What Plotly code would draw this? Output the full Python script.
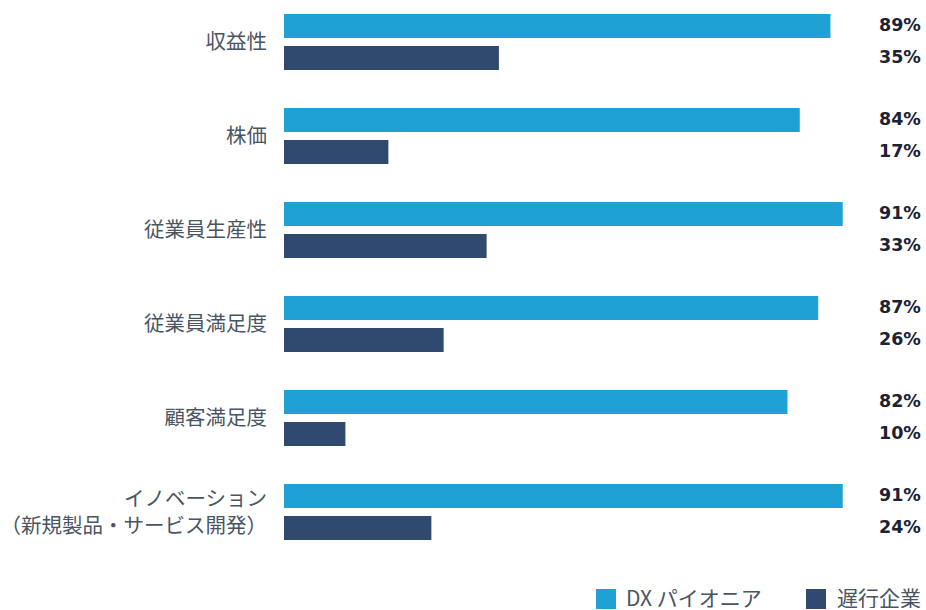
import plotly.graph_objects as go

categories = [
    "収益性",
    "株価",
    "従業員生産性",
    "従業員満足度",
    "顧客満足度",
    "イノベーション<br>（新規製品・サービス開発）",
]
pioneer = [89, 84, 91, 87, 82, 91]
laggard = [35, 17, 33, 26, 10, 24]
series_names = ["DX パイオニア", "遅行企業"]
colors = ["#20a1d3", "#2f4a6e"]

W, H = 926, 610
L, R, T, B = 284, 28, 0, 50
plot_w = W - L - R

fig = go.Figure()
for name, vals, col in zip(series_names, [pioneer, laggard], colors):
    fig.add_trace(go.Bar(
        y=categories, x=vals, name=name, orientation="h",
        marker=dict(color=col, line=dict(width=0)),
        hoverinfo="skip",
    ))

# value labels, right-aligned past the plot edge
label_x = 1 + (923 - (L + plot_w)) / plot_w
annotations = []
for i, cat in enumerate(categories):
    for vals, shift in ((pioneer, 16), (laggard, -16)):
        annotations.append(dict(
            x=label_x, xref="paper", y=cat, yref="y", yshift=shift + 1,
            text=f"<b>{vals[i]}%</b>", showarrow=False, xanchor="right",
            font=dict(size=17.5, color="#1b2232", family="DejaVu Sans"),
        ))

# custom legend at the bottom right
def px_x(p):
    return (p - L) / plot_w

def px_y(p):
    return (H - B - p) / (H - T - B)

shapes = []
legend_items = [(596, 624, series_names[0], colors[0]),
                (806, 835, series_names[1], colors[1])]
for x0, tx, name, col in legend_items:
    shapes.append(dict(type="rect", xref="paper", yref="paper",
                       x0=px_x(x0), x1=px_x(x0 + 20), y0=px_y(609), y1=px_y(589),
                       fillcolor=col, line=dict(width=0)))
    annotations.append(dict(
        x=px_x(tx), xref="paper", y=px_y(597), yref="paper", text=name,
        showarrow=False, xanchor="left", yanchor="middle", height=22,
        font=dict(size=21, color="#4a5563", family="Noto Sans CJK JP"),
    ))

fig.update_layout(
    width=W, height=H,
    margin=dict(l=L, r=R, t=T, b=B, pad=0, autoexpand=False),
    barmode="group", bargap=0.319, bargroupgap=0.25,
    plot_bgcolor="white", paper_bgcolor="white",
    showlegend=False,
    annotations=annotations, shapes=shapes,
    font=dict(family="Noto Sans CJK JP", color="#4a5563"),
    xaxis=dict(range=[0, 100], visible=False, fixedrange=True, automargin=False),
    yaxis=dict(
        range=[5.51, -0.447], showgrid=False, zeroline=False, showline=False,
        ticks="", ticklabelstandoff=16, automargin=False,
        tickfont=dict(size=20.5, color="#4a5563", family="Noto Sans CJK JP"),
    ),
)

fig.write_html("out.html")
